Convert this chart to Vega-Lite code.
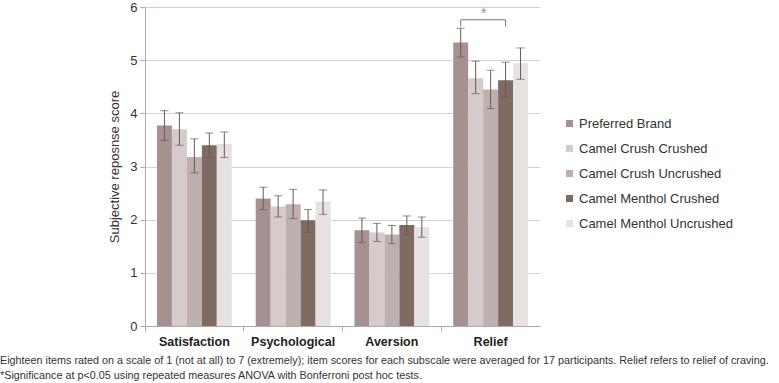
{
  "$schema": "https://vega.github.io/schema/vega-lite/v6.json",
  "width": 395,
  "height": 319,
  "autosize": {"type": "none"},
  "padding": {"left": 145, "top": 7, "right": 239, "bottom": 57},
  "background": "white",
  "config": {"view": {"stroke": null}, "font": "Arial, Liberation Sans, sans-serif"},
  "title": {
    "text": ["Eighteen items rated on a scale of 1 (not at all) to 7 (extremely); item scores for each subscale were averaged for 17 participants. Relief refers to relief of craving.", "*Significance at p<0.05 using repeated measures ANOVA with Bonferroni post hoc tests."],
    "orient": "bottom",
    "anchor": "start",
    "frame": "group",
    "dx": -145,
    "offset": 7,
    "font": "Arial Narrow, Liberation Sans Narrow, Arial, Liberation Sans, sans-serif",
    "fontSize": 10.8,
    "fontWeight": "normal",
    "color": "#333333",
    "lineHeight": 15
  },
  "datasets": {
    "bars": [
      {"cat": "Satisfaction", "series": "Preferred Brand", "mean": 3.77, "lo": 3.49, "hi": 4.05},
      {"cat": "Satisfaction", "series": "Camel Crush Crushed", "mean": 3.70, "lo": 3.40, "hi": 4.01},
      {"cat": "Satisfaction", "series": "Camel Crush Uncrushed", "mean": 3.18, "lo": 2.88, "hi": 3.52},
      {"cat": "Satisfaction", "series": "Camel Menthol Crushed", "mean": 3.40, "lo": 3.17, "hi": 3.63},
      {"cat": "Satisfaction", "series": "Camel Menthol Uncrushed", "mean": 3.43, "lo": 3.17, "hi": 3.65},
      {"cat": "Psychological", "series": "Preferred Brand", "mean": 2.40, "lo": 2.19, "hi": 2.61},
      {"cat": "Psychological", "series": "Camel Crush Crushed", "mean": 2.25, "lo": 2.05, "hi": 2.45},
      {"cat": "Psychological", "series": "Camel Crush Uncrushed", "mean": 2.29, "lo": 2.02, "hi": 2.57},
      {"cat": "Psychological", "series": "Camel Menthol Crushed", "mean": 1.99, "lo": 1.76, "hi": 2.19},
      {"cat": "Psychological", "series": "Camel Menthol Uncrushed", "mean": 2.34, "lo": 2.10, "hi": 2.56},
      {"cat": "Aversion", "series": "Preferred Brand", "mean": 1.80, "lo": 1.57, "hi": 2.03},
      {"cat": "Aversion", "series": "Camel Crush Crushed", "mean": 1.76, "lo": 1.59, "hi": 1.93},
      {"cat": "Aversion", "series": "Camel Crush Uncrushed", "mean": 1.72, "lo": 1.55, "hi": 1.89},
      {"cat": "Aversion", "series": "Camel Menthol Crushed", "mean": 1.90, "lo": 1.72, "hi": 2.07},
      {"cat": "Aversion", "series": "Camel Menthol Uncrushed", "mean": 1.86, "lo": 1.67, "hi": 2.05},
      {"cat": "Relief", "series": "Preferred Brand", "mean": 5.33, "lo": 5.06, "hi": 5.60},
      {"cat": "Relief", "series": "Camel Crush Crushed", "mean": 4.66, "lo": 4.37, "hi": 4.98},
      {"cat": "Relief", "series": "Camel Crush Uncrushed", "mean": 4.45, "lo": 4.09, "hi": 4.81},
      {"cat": "Relief", "series": "Camel Menthol Crushed", "mean": 4.62, "lo": 4.32, "hi": 4.96},
      {"cat": "Relief", "series": "Camel Menthol Uncrushed", "mean": 4.94, "lo": 4.64, "hi": 5.23}
    ],
    "bracket": [
      {"cat": "Relief", "series": "Preferred Brand", "y": 5.63, "ord": 1},
      {"cat": "Relief", "series": "Preferred Brand", "y": 5.76, "ord": 2},
      {"cat": "Relief", "series": "Camel Menthol Crushed", "y": 5.76, "ord": 3},
      {"cat": "Relief", "series": "Camel Menthol Crushed", "y": 5.63, "ord": 4}
    ],
    "star": [
      {"cat": "Relief", "series": "Camel Crush Uncrushed", "y": 5.86, "label": "*"}
    ]
  },
  "encoding": {
    "x": {
      "field": "cat", "type": "nominal",
      "sort": ["Satisfaction", "Psychological", "Aversion", "Relief"],
      "scale": {"domain": ["Satisfaction", "Psychological", "Aversion", "Relief"], "paddingInner": 0, "paddingOuter": 0},
      "axis": {
        "title": null, "labelAngle": 0, "bandPosition": 0,
        "domainColor": "#b5a6a3", "tickColor": "#b5a6a3", "tickSize": 5,
        "labelFontSize": 12.5, "labelFontWeight": "bold", "labelColor": "#222222",
        "labelPadding": 4, "grid": false
      }
    },
    "xOffset": {
      "field": "series", "type": "nominal",
      "sort": ["Preferred Brand", "Camel Crush Crushed", "Camel Crush Uncrushed", "Camel Menthol Crushed", "Camel Menthol Uncrushed"],
      "scale": {"domain": ["Preferred Brand", "Camel Crush Crushed", "Camel Crush Uncrushed", "Camel Menthol Crushed", "Camel Menthol Uncrushed"], "paddingInner": 0, "paddingOuter": 0.8}
    }
  },
  "layer": [
    {
      "data": {"name": "bars"},
      "mark": {"type": "bar"},
      "encoding": {
        "y": {
          "field": "mean", "type": "quantitative",
          "scale": {"domain": [0, 6], "nice": false},
          "axis": {
            "title": "Subjective reposnse score", "titleFontSize": 13, "titleFontWeight": "normal",
            "titleColor": "#333333", "titlePadding": 8,
            "values": [0, 1, 2, 3, 4, 5, 6], "format": "d",
            "labelFontSize": 13, "labelColor": "#333333", "labelPadding": 3,
            "domainColor": "#b5a6a3", "tickColor": "#b5a6a3", "tickSize": 5,
            "gridColor": "#d9cfcd", "gridWidth": 1
          }
        },
        "color": {
          "field": "series", "type": "nominal",
          "scale": {
            "domain": ["Preferred Brand", "Camel Crush Crushed", "Camel Crush Uncrushed", "Camel Menthol Crushed", "Camel Menthol Uncrushed"],
            "range": ["#a59290", "#d4cbca", "#bdb0ae", "#7f6a64", "#e7e2e1"]
          },
          "legend": {
            "title": null, "orient": "none", "legendX": 418, "legendY": 110,
            "symbolType": "square", "symbolSize": 50, "symbolStrokeWidth": 0,
            "labelFontSize": 13, "labelColor": "#333333", "labelOffset": 3,
            "rowPadding": 11
          }
        }
      }
    },
    {
      "data": {"name": "bars"},
      "mark": {"type": "rule", "color": "#6e5650", "strokeWidth": 1},
      "encoding": {
        "y": {"field": "lo", "type": "quantitative"},
        "y2": {"field": "hi"}
      }
    },
    {
      "data": {"name": "bars"},
      "mark": {"type": "tick", "color": "#6e5650", "thickness": 1, "size": 8, "orient": "horizontal"},
      "encoding": {"y": {"field": "hi", "type": "quantitative"}}
    },
    {
      "data": {"name": "bars"},
      "mark": {"type": "tick", "color": "#6e5650", "thickness": 1, "size": 8, "orient": "horizontal"},
      "encoding": {"y": {"field": "lo", "type": "quantitative"}}
    },
    {
      "data": {"name": "bracket"},
      "mark": {"type": "line", "color": "#8a6e66", "strokeWidth": 1},
      "encoding": {
        "y": {"field": "y", "type": "quantitative"},
        "order": {"field": "ord", "type": "quantitative"}
      }
    },
    {
      "data": {"name": "star"},
      "mark": {"type": "text", "color": "#a08a85", "fontSize": 14, "dx": -7, "baseline": "middle"},
      "encoding": {
        "y": {"field": "y", "type": "quantitative"},
        "text": {"field": "label"}
      }
    }
  ]
}
